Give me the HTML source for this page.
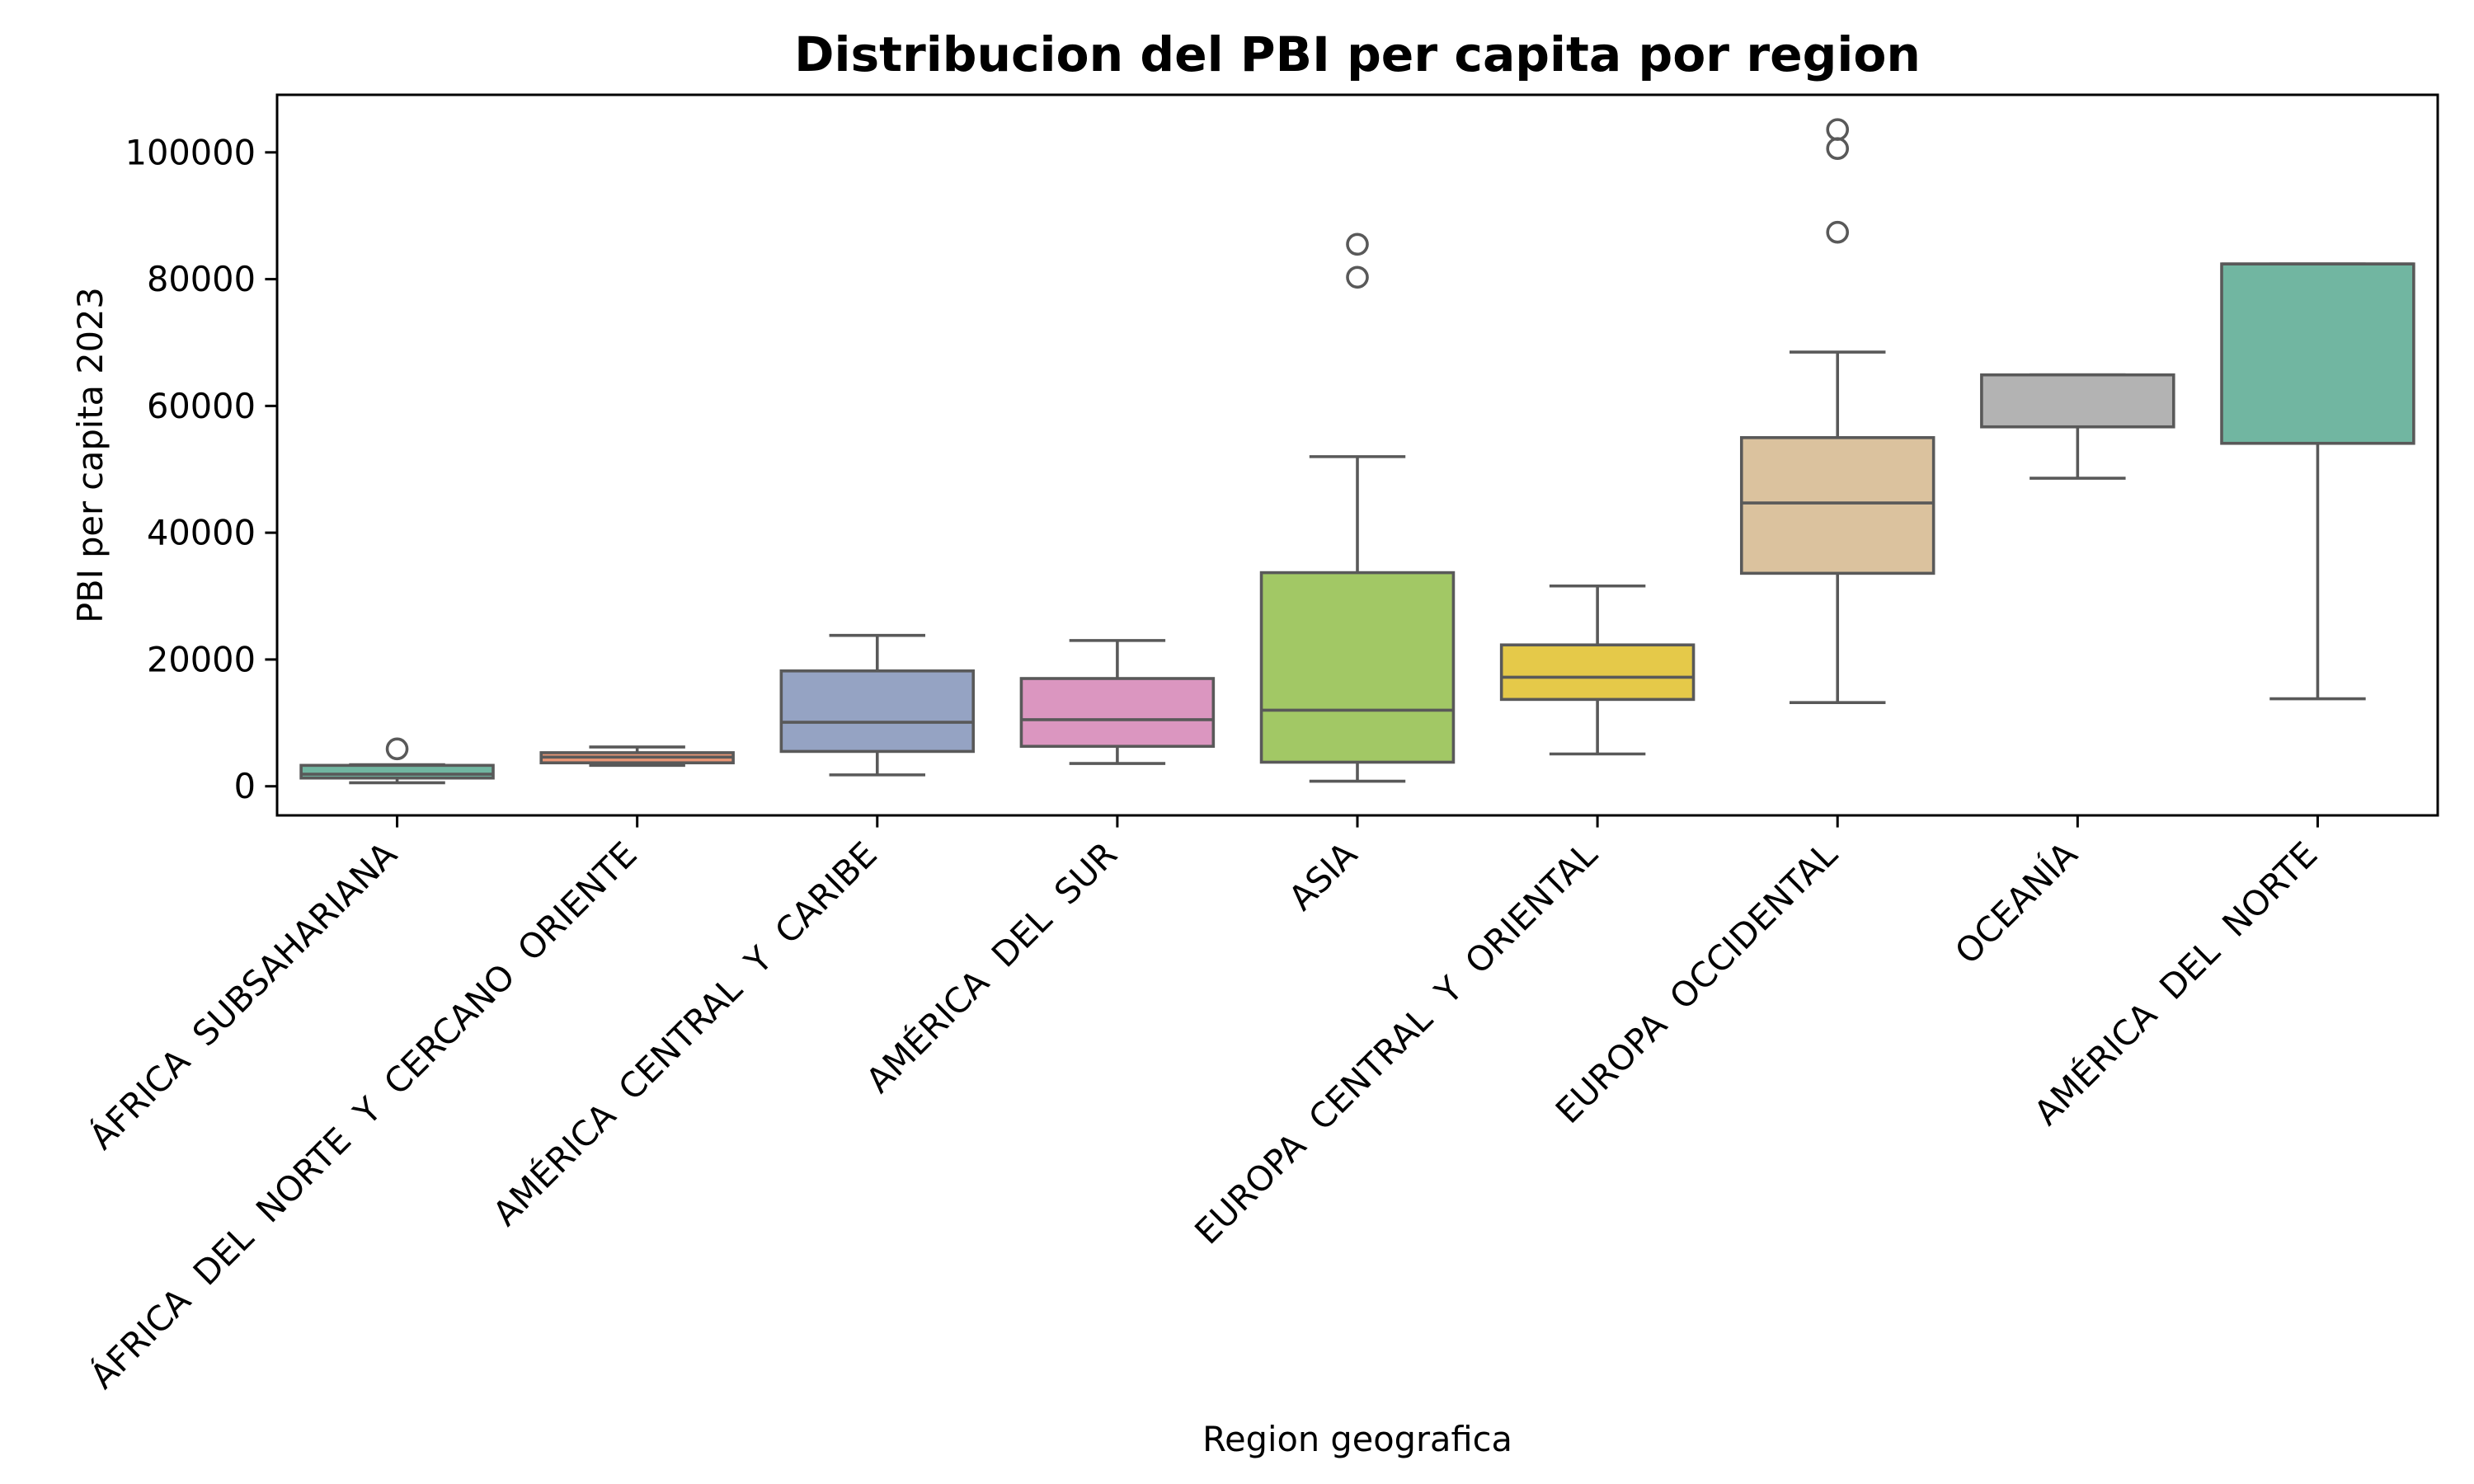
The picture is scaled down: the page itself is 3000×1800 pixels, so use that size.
<!DOCTYPE html>
<html><head><meta charset="utf-8"><style>
html,body{margin:0;padding:0;background:#fff;}
svg{display:block;font-family:"DejaVu Sans","Liberation Sans",sans-serif;}
text{white-space:pre;}
</style></head><body>
<svg id="chart" width="3000" height="1800" viewBox="0 0 3000 1800" xmlns="http://www.w3.org/2000/svg" xml:space="preserve">
<rect width="3000" height="1800" fill="#fff"/>
<text x="1646" y="86" text-anchor="middle" font-size="58.3" font-weight="bold" fill="#000">Distribucion del PBI per capita por region</text>
<g id="plot"></g>
<text x="1646" y="1760" text-anchor="middle" font-size="41.5" fill="#000">Region geografica</text>
<text transform="translate(124,552) rotate(-90)" text-anchor="middle" font-size="41.5" fill="#000">PBI per capita 2023</text>
</svg>
<script>
const categories = ["ÁFRICA  SUBSAHARIANA","ÁFRICA  DEL  NORTE  Y  CERCANO  ORIENTE","AMÉRICA  CENTRAL  Y  CARIBE","AMÉRICA  DEL  SUR","ASIA","EUROPA  CENTRAL  Y  ORIENTAL","EUROPA  OCCIDENTAL","OCEANÍA","AMÉRICA  DEL  NORTE"];
const whiskerLow = [550, 3300, 1800, 3600, 800, 5100, 13200, 48600, 13800];
const q1 = [1300, 3700, 5500, 6300, 3800, 13700, 33600, 56700, 54100];
const median = [1900, 4600, 10100, 10500, 12000, 17200, 44700, 56700, 82400];
const q3 = [3300, 5300, 18200, 17000, 33700, 22300, 55000, 64900, 82400];
const whiskerHigh = [3400, 6200, 23800, 23000, 52000, 31600, 68500, 64900, 82400];
const outliers = [[5900], [], [], [], [80300, 85500], [], [87400, 100600, 103600], [], []];
const yTicks = [0, 20000, 40000, 60000, 80000, 100000];
const palette = ["#66c2a5","#fc8d62","#8da0cb","#e78ac3","#a6d854","#ffd92f","#e5c494","#b3b3b3"];

const NS = "http://www.w3.org/2000/svg";
const AX = {left:336, right:2956, top:115, bottom:989};
const yMin = -4590, yMax = 109080;
function yScale(v){ return AX.bottom - (v - yMin) / (yMax - yMin) * (AX.bottom - AX.top); }
const step = (AX.right - AX.left) / categories.length;
function xScale(i){ return AX.left + step * (i + 0.5); }
const boxW = step * 0.8;
const LC = "#595959", LW = 3.6;

function desat(hex, f){
  let r=parseInt(hex.substr(1,2),16)/255,g=parseInt(hex.substr(3,2),16)/255,b=parseInt(hex.substr(5,2),16)/255;
  const mx=Math.max(r,g,b), mn=Math.min(r,g,b), L=(mx+mn)/2, d=mx-mn;
  if(d===0) return hex;
  const S = L>0.5 ? d/(2-mx-mn) : d/(mx+mn);
  const nd = S*f*(L>0.5 ? (2-2*L) : 2*L);
  const nmx=L+nd/2, nmn=L-nd/2;
  const m = c => nmn + (c-mn)/d*(nmx-nmn);
  const h = c => Math.round(m(c)*255).toString(16).padStart(2,'0');
  return "#"+h(r)+h(g)+h(b);
}
function mk(tag, attrs, parent){
  const e=document.createElementNS(NS,tag);
  for(const k in attrs) e.setAttribute(k, attrs[k]);
  parent.appendChild(e); return e;
}
const plot=document.getElementById('plot');

yTicks.forEach(t=>{
  const y=yScale(t);
  const tk=mk('line',{x1:AX.left-14.6,x2:AX.left,y1:y,y2:y,stroke:'#000','stroke-width':3},plot);
  
  
  const lb=mk('text',{x:AX.left-26,y:y+14.5,'text-anchor':'end','font-size':41.5,fill:'#000'},plot);
  lb.textContent=String(t);
  
  
});

categories.forEach((c,i)=>{
  const x=xScale(i);
  const g=mk('g',{},plot);
  
  
  const col=desat(palette[i%palette.length],0.75);
  mk('line',{x1:x,x2:x,y1:yScale(q1[i]),y2:yScale(whiskerLow[i]),stroke:LC,'stroke-width':LW},g);
  mk('line',{x1:x,x2:x,y1:yScale(q3[i]),y2:yScale(whiskerHigh[i]),stroke:LC,'stroke-width':LW},g);
  mk('line',{x1:x-boxW/4,x2:x+boxW/4,y1:yScale(whiskerLow[i]),y2:yScale(whiskerLow[i]),stroke:LC,'stroke-width':LW},g);
  mk('line',{x1:x-boxW/4,x2:x+boxW/4,y1:yScale(whiskerHigh[i]),y2:yScale(whiskerHigh[i]),stroke:LC,'stroke-width':LW},g);
  const yt=yScale(q3[i]), yb=yScale(q1[i]);
  mk('rect',{x:x-boxW/2,y:yt,width:boxW,height:Math.max(yb-yt,0.5),fill:col,stroke:LC,'stroke-width':LW},g);
  mk('line',{x1:x-boxW/2,x2:x+boxW/2,y1:yScale(median[i]),y2:yScale(median[i]),stroke:LC,'stroke-width':LW},g);
  outliers[i].forEach(v=>{
    const o=mk('circle',{cx:x,cy:yScale(v),r:12,fill:'none',stroke:LC,'stroke-width':3.6},g);
    
    
  });
  const tk=mk('line',{x1:x,x2:x,y1:AX.bottom,y2:AX.bottom+14.6,stroke:'#000','stroke-width':3},plot);
  
  
  const lb=mk('text',{'text-anchor':'end','font-size':41.5,fill:'#000',transform:'translate('+(x+2)+','+(AX.bottom+50)+') rotate(-45)'},plot);
  lb.textContent=c;
  
  
});

const fr=mk('rect',{x:AX.left,y:AX.top,width:AX.right-AX.left,height:AX.bottom-AX.top,fill:'none',stroke:'#000','stroke-width':3},plot);


</script>
</body></html>
